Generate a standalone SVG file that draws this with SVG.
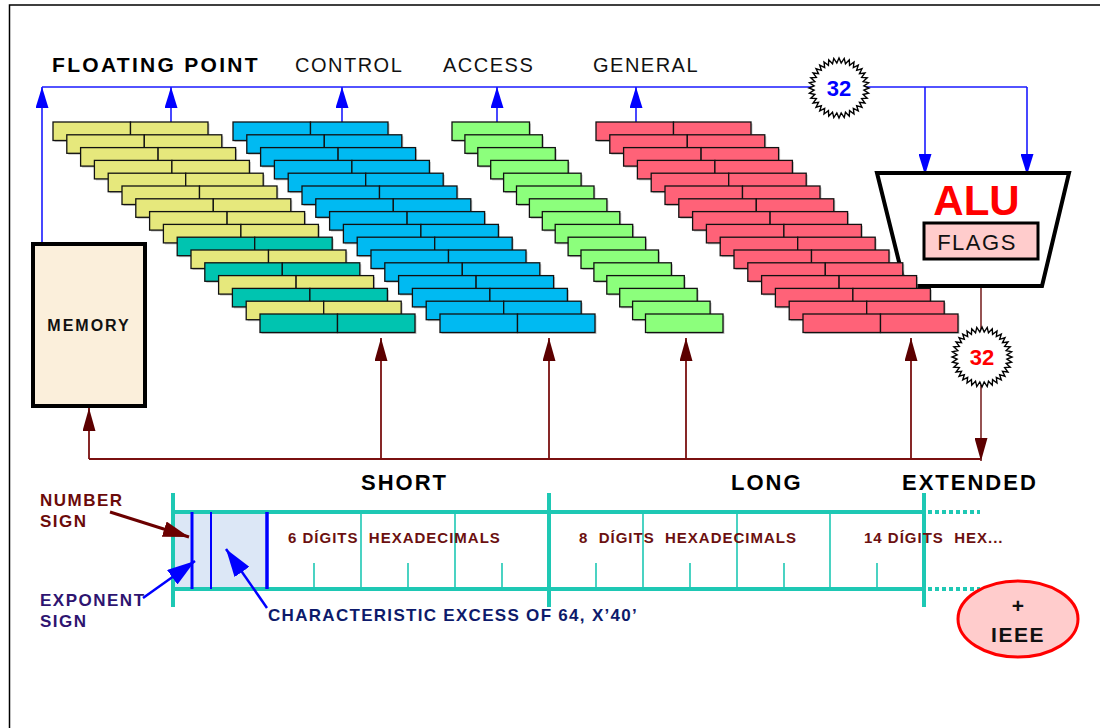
<svg xmlns="http://www.w3.org/2000/svg" xmlns:xlink="http://www.w3.org/1999/xlink" width="1100" height="728" viewBox="0 0 1100 728">
  <style>
    .sans { font-family: "Liberation Sans", Arial, sans-serif; }
    .lbl { font-weight: bold; fill: #000; font-size: 21px; letter-spacing: 2.3px; }
    .reg { fill: #111; font-size: 20px; letter-spacing: 1.5px; }
    .fmt { font-weight: bold; fill: #000; font-size: 22px; letter-spacing: 2px; }
    .dig { font-weight: bold; fill: #6B1010; font-size: 15px; letter-spacing: 1px; white-space: pre; }
    .bus { stroke: #1A1AFF; stroke-width: 1.6; fill: none; }
    .mem { stroke: #7A1010; stroke-width: 1.8; fill: none; }
    .cell { stroke: #111; stroke-width: 1.3; }
    .shadow { fill: #999; opacity: 0.55; }
    .y { fill: #E6E87C; }
    .t { fill: #00C4B0; }
    .b { fill: #00BAF2; }
    .g { fill: #8CFF7C; }
    .r { fill: #FF6278; }
    .tealbar { stroke: #1EC8B4; stroke-width: 4; fill: none; }
    .tealthin { stroke: #1EC8B4; stroke-width: 1.6; fill: none; }
    .burst { fill: #fff; stroke: #000; stroke-width: 1.4; stroke-linejoin: miter; }
  </style>
  <defs>
    <marker id="tipBlue" markerUnits="userSpaceOnUse" viewBox="0 0 21 13" refX="21" refY="6.5" markerWidth="21" markerHeight="13" orient="auto">
      <path d="M0,0 L21,6.5 L0,13 z" fill="#0000FF"/>
    </marker>
    <marker id="tipBrown" markerUnits="userSpaceOnUse" viewBox="0 0 23 13" refX="23" refY="6.5" markerWidth="23" markerHeight="13" orient="auto">
      <path d="M0,0 L23,6.5 L0,13 z" fill="#5C0000"/>
    </marker>
    <marker id="tipBrownBig" markerUnits="userSpaceOnUse" viewBox="0 0 26 16" refX="26" refY="8" markerWidth="26" markerHeight="16" orient="auto">
      <path d="M0,0 L26,8 L0,16 z" fill="#6B0000"/>
    </marker>
    <marker id="tipBlueBig" markerUnits="userSpaceOnUse" viewBox="0 0 28 18" refX="28" refY="9" markerWidth="28" markerHeight="18" orient="auto">
      <path d="M0,0 L28,9 L0,18 z" fill="#0000FF"/>
    </marker>

    <!-- register rows: two cells of 77.5 x 18.5 with a soft shadow -->
    <g id="rowY">
      <rect x="1.5" y="1.5" width="155" height="18.5" class="shadow"/>
      <rect x="0" y="0" width="77.5" height="18.5" class="cell y"/>
      <rect x="77.5" y="0" width="77.5" height="18.5" class="cell y"/>
    </g>
    <g id="rowT">
      <rect x="1.5" y="1.5" width="155" height="18.5" class="shadow"/>
      <rect x="0" y="0" width="77.5" height="18.5" class="cell t"/>
      <rect x="77.5" y="0" width="77.5" height="18.5" class="cell t"/>
    </g>
    <g id="rowB">
      <rect x="1.5" y="1.5" width="155" height="18.5" class="shadow"/>
      <rect x="0" y="0" width="77.5" height="18.5" class="cell b"/>
      <rect x="77.5" y="0" width="77.5" height="18.5" class="cell b"/>
    </g>
    <g id="rowR">
      <rect x="1.5" y="1.5" width="155" height="18.5" class="shadow"/>
      <rect x="0" y="0" width="77.5" height="18.5" class="cell r"/>
      <rect x="77.5" y="0" width="77.5" height="18.5" class="cell r"/>
    </g>
    <g id="rowG">
      <rect x="1.5" y="1.5" width="77.5" height="18.5" class="shadow"/>
      <rect x="0" y="0" width="77.5" height="18.5" class="cell g"/>
    </g>

    <!-- 36-point starburst, outer radius 30, inner 25 -->
    <polygon id="burstShape" class="burst" points="30,0 24.9,2.18 29.54,5.21 24.15,6.47 28.19,10.26 22.66,10.57 25.98,15 20.48,14.34 22.98,19.28 17.68,17.68 19.28,22.98 14.34,20.48 15,25.98 10.57,22.66 10.26,28.19 6.47,24.15 5.21,29.54 2.18,24.9 0,30 -2.18,24.9 -5.21,29.54 -6.47,24.15 -10.26,28.19 -10.57,22.66 -15,25.98 -14.34,20.48 -19.28,22.98 -17.68,17.68 -22.98,19.28 -20.48,14.34 -25.98,15 -22.66,10.57 -28.19,10.26 -24.15,6.47 -29.54,5.21 -24.9,2.18 -30,0 -24.9,-2.18 -29.54,-5.21 -24.15,-6.47 -28.19,-10.26 -22.66,-10.57 -25.98,-15 -20.48,-14.34 -22.98,-19.28 -17.68,-17.68 -19.28,-22.98 -14.34,-20.48 -15,-25.98 -10.57,-22.66 -10.26,-28.19 -6.47,-24.15 -5.21,-29.54 -2.18,-24.9 0,-30 2.18,-24.9 5.21,-29.54 6.47,-24.15 10.26,-28.19 10.57,-22.66 15,-25.98 14.34,-20.48 19.28,-22.98 17.68,-17.68 22.98,-19.28 20.48,-14.34 25.98,-15 22.66,-10.57 28.19,-10.26 24.15,-6.47 29.54,-5.21 24.9,-2.18"/>
  </defs>

  <rect width="1100" height="728" fill="#fff"/>

  <!-- page frame -->
  <path d="M9.5,728 V5 H1100" fill="none" stroke="#000" stroke-width="1.5"/>

  <!-- section titles -->
  <g class="sans">
    <text x="52" y="72" class="lbl">FLOATING POINT</text>
    <text x="295" y="72" class="reg">CONTROL</text>
    <text x="443" y="72" class="reg">ACCESS</text>
    <text x="593" y="72" class="reg">GENERAL</text>
  </g>

  <!-- connectors -->
  <g id="connectors">
    <!-- upper data bus (blue) -->
    <line x1="42" y1="87" x2="1027" y2="87" class="bus"/>
    <line x1="42" y1="242" x2="42" y2="87" class="bus" marker-end="url(#tipBlue)"/>
    <line x1="171" y1="122" x2="171" y2="87" class="bus" marker-end="url(#tipBlue)"/>
    <line x1="342" y1="122" x2="342" y2="87" class="bus" marker-end="url(#tipBlue)"/>
    <line x1="497" y1="122" x2="497" y2="87" class="bus" marker-end="url(#tipBlue)"/>
    <line x1="636" y1="122" x2="636" y2="87" class="bus" marker-end="url(#tipBlue)"/>
    <line x1="925" y1="87" x2="925" y2="175" class="bus" marker-end="url(#tipBlue)"/>
    <line x1="1027" y1="87" x2="1027" y2="175" class="bus" marker-end="url(#tipBlue)"/>

    <!-- lower result bus (maroon) -->
    <line x1="89" y1="459" x2="981" y2="459" class="mem"/>
    <line x1="89" y1="459" x2="89" y2="408" class="mem" marker-end="url(#tipBrown)"/>
    <line x1="381" y1="459" x2="381" y2="338" class="mem" marker-end="url(#tipBrown)"/>
    <line x1="549" y1="459" x2="549" y2="338" class="mem" marker-end="url(#tipBrown)" stroke="#9B4B4B"/>
    <line x1="686" y1="459" x2="686" y2="338" class="mem" marker-end="url(#tipBrown)"/>
    <line x1="911" y1="459" x2="911" y2="338" class="mem" marker-end="url(#tipBrown)"/>
    <line x1="981" y1="286" x2="981" y2="330" stroke="#8B4040" stroke-width="1.8"/>
    <line x1="981" y1="385" x2="981" y2="461" stroke="#8B4040" stroke-width="1.8" marker-end="url(#tipBrown)"/>
  </g>

  <!-- ALU (drawn beneath the general registers) -->
  <g id="alu">
    <polygon points="877,173 1069,173 1042,286 905,286" fill="#fff" stroke="#000" stroke-width="4" stroke-linejoin="miter"/>
    <text x="976.5" y="215" text-anchor="middle" class="sans" font-size="42" font-weight="bold" fill="#FF0000">ALU</text>
    <rect x="924" y="223" width="114" height="36" fill="#FFCCCC" stroke="#000" stroke-width="3"/>
    <text x="977" y="249.5" text-anchor="middle" class="sans" font-size="22" letter-spacing="1.5" fill="#111">FLAGS</text>
  </g>

  <!-- floating point registers -->
  <g id="fp-registers">
    <use xlink:href="#rowY" x="53" y="122"/>
    <use xlink:href="#rowY" x="66.8" y="134.8"/>
    <use xlink:href="#rowY" x="80.6" y="147.6"/>
    <use xlink:href="#rowY" x="94.4" y="160.4"/>
    <use xlink:href="#rowY" x="108.2" y="173.2"/>
    <use xlink:href="#rowY" x="122" y="186"/>
    <use xlink:href="#rowY" x="135.8" y="198.8"/>
    <use xlink:href="#rowY" x="149.6" y="211.6"/>
    <use xlink:href="#rowY" x="163.4" y="224.4"/>
    <use xlink:href="#rowT" x="177.2" y="237.2"/>
    <use xlink:href="#rowY" x="191" y="250"/>
    <use xlink:href="#rowT" x="204.8" y="262.8"/>
    <use xlink:href="#rowY" x="218.6" y="275.6"/>
    <use xlink:href="#rowT" x="232.4" y="288.4"/>
    <use xlink:href="#rowY" x="246.2" y="301.2"/>
    <use xlink:href="#rowT" x="260" y="314"/>
  </g>

  <!-- control registers -->
  <g id="control-registers">
    <use xlink:href="#rowB" x="233" y="122"/>
    <use xlink:href="#rowB" x="246.8" y="134.8"/>
    <use xlink:href="#rowB" x="260.6" y="147.6"/>
    <use xlink:href="#rowB" x="274.4" y="160.4"/>
    <use xlink:href="#rowB" x="288.2" y="173.2"/>
    <use xlink:href="#rowB" x="302" y="186"/>
    <use xlink:href="#rowB" x="315.8" y="198.8"/>
    <use xlink:href="#rowB" x="329.6" y="211.6"/>
    <use xlink:href="#rowB" x="343.4" y="224.4"/>
    <use xlink:href="#rowB" x="357.2" y="237.2"/>
    <use xlink:href="#rowB" x="371" y="250"/>
    <use xlink:href="#rowB" x="384.8" y="262.8"/>
    <use xlink:href="#rowB" x="398.6" y="275.6"/>
    <use xlink:href="#rowB" x="412.4" y="288.4"/>
    <use xlink:href="#rowB" x="426.2" y="301.2"/>
    <use xlink:href="#rowB" x="440" y="314"/>
  </g>

  <!-- access registers -->
  <g id="access-registers">
    <use xlink:href="#rowG" x="452" y="122"/>
    <use xlink:href="#rowG" x="464.9" y="134.8"/>
    <use xlink:href="#rowG" x="477.8" y="147.6"/>
    <use xlink:href="#rowG" x="490.7" y="160.4"/>
    <use xlink:href="#rowG" x="503.6" y="173.2"/>
    <use xlink:href="#rowG" x="516.5" y="186"/>
    <use xlink:href="#rowG" x="529.4" y="198.8"/>
    <use xlink:href="#rowG" x="542.3" y="211.6"/>
    <use xlink:href="#rowG" x="555.2" y="224.4"/>
    <use xlink:href="#rowG" x="568.1" y="237.2"/>
    <use xlink:href="#rowG" x="581" y="250"/>
    <use xlink:href="#rowG" x="593.9" y="262.8"/>
    <use xlink:href="#rowG" x="606.8" y="275.6"/>
    <use xlink:href="#rowG" x="619.7" y="288.4"/>
    <use xlink:href="#rowG" x="632.6" y="301.2"/>
    <use xlink:href="#rowG" x="645.5" y="314"/>
  </g>

  <!-- general registers -->
  <g id="general-registers">
    <use xlink:href="#rowR" x="596" y="122"/>
    <use xlink:href="#rowR" x="609.8" y="134.8"/>
    <use xlink:href="#rowR" x="623.6" y="147.6"/>
    <use xlink:href="#rowR" x="637.4" y="160.4"/>
    <use xlink:href="#rowR" x="651.2" y="173.2"/>
    <use xlink:href="#rowR" x="665" y="186"/>
    <use xlink:href="#rowR" x="678.8" y="198.8"/>
    <use xlink:href="#rowR" x="692.6" y="211.6"/>
    <use xlink:href="#rowR" x="706.4" y="224.4"/>
    <use xlink:href="#rowR" x="720.2" y="237.2"/>
    <use xlink:href="#rowR" x="734" y="250"/>
    <use xlink:href="#rowR" x="747.8" y="262.8"/>
    <use xlink:href="#rowR" x="761.6" y="275.6"/>
    <use xlink:href="#rowR" x="775.4" y="288.4"/>
    <use xlink:href="#rowR" x="789.2" y="301.2"/>
    <use xlink:href="#rowR" x="803" y="314"/>
  </g>

  <!-- bus width badges -->
  <g id="width-in">
    <use xlink:href="#burstShape" x="839" y="88"/>
    <text x="839" y="96" text-anchor="middle" class="sans" font-size="22" font-weight="bold" fill="#0000FF">32</text>
  </g>
  <g id="width-out">
    <use xlink:href="#burstShape" x="982" y="357"/>
    <text x="982" y="365" text-anchor="middle" class="sans" font-size="22" font-weight="bold" fill="#FF0000">32</text>
  </g>

  <!-- main storage -->
  <g id="memory">
    <rect x="33" y="244" width="112" height="162" fill="#FBEFDB" stroke="#000" stroke-width="4"/>
    <text x="89" y="331" text-anchor="middle" class="sans" font-size="16" font-weight="bold" letter-spacing="2" fill="#111">MEMORY</text>
  </g>

  <!-- number formats -->
  <g id="formats" class="sans">
    <text x="361" y="490" class="fmt">SHORT</text>
    <text x="731" y="490" class="fmt" letter-spacing="1.6">LONG</text>
    <text x="902" y="490" class="fmt">EXTENDED</text>
  </g>

  <g id="format-bar">
    <rect x="175" y="512" width="92" height="77" fill="#DCE7F6"/>
    <!-- minor digit ticks -->
    <path class="tealthin" d="M314,563 V589 M408,563 V589 M502,563 V589 M596,563 V589 M690,563 V589 M784,563 V589 M877,563 V589"/>
    <!-- digit group separators -->
    <path class="tealthin" d="M361,512 V589 M455,512 V589 M643,512 V589 M737,512 V589 M830,512 V589"/>
    <line x1="173" y1="512" x2="924" y2="512" class="tealbar"/>
    <line x1="173" y1="589" x2="924" y2="589" class="tealbar"/>
    <path d="M928,512 H980 M928,589 H980" stroke="#1EC8B4" stroke-width="4" stroke-dasharray="4 3" fill="none"/>
    <path class="tealbar" d="M173,493 V607 M549,493 V607 M924,493 V607"/>
    <line x1="192" y1="512" x2="192" y2="589" stroke="#0000FF" stroke-width="3"/>
    <line x1="211" y1="512" x2="211" y2="589" stroke="#0000FF" stroke-width="2"/>
    <line x1="267" y1="512" x2="267" y2="589" stroke="#0000FF" stroke-width="3.5"/>
    <g class="sans">
      <text x="288" y="543" class="dig">6 DÍGITS  HEXADECIMALS</text>
      <text x="579" y="543" class="dig">8  DÍGITS  HEXADECIMALS</text>
      <text x="864" y="543" class="dig">14 DÍGITS  HEX...</text>
    </g>
  </g>

  <!-- field callouts -->
  <g id="callouts" class="sans">
    <text x="40" y="506" font-size="17" font-weight="bold" letter-spacing="1.5" fill="#6B0A0A">NUMBER</text>
    <text x="40" y="527" font-size="17" font-weight="bold" letter-spacing="1.5" fill="#6B0A0A">SIGN</text>
    <line x1="110" y1="512" x2="189" y2="537" stroke="#6B0000" stroke-width="3" marker-end="url(#tipBrownBig)"/>
    <text x="40" y="606" font-size="17" font-weight="bold" letter-spacing="1.5" fill="#2E1470">EXPONENT</text>
    <text x="40" y="627" font-size="17" font-weight="bold" letter-spacing="1.5" fill="#2E1470">SIGN</text>
    <line x1="143" y1="598" x2="195" y2="561" stroke="#0000FF" stroke-width="2.5" marker-end="url(#tipBlueBig)"/>
    <line x1="267" y1="608" x2="226" y2="549" stroke="#0000FF" stroke-width="2.5" marker-end="url(#tipBlueBig)"/>
    <text x="268" y="621" font-size="17" font-weight="bold" letter-spacing="1.3" fill="#0D1A6B">CHARACTERISTIC EXCESS OF 64, X’40’</text>
  </g>

  <!-- IEEE note -->
  <g id="ieee">
    <ellipse cx="1018" cy="619" rx="60" ry="38" fill="#FFCCCC" stroke="#FF0000" stroke-width="3"/>
    <text x="1018" y="613" text-anchor="middle" class="sans" font-size="21" font-weight="bold" fill="#111">+</text>
    <text x="1018" y="642" text-anchor="middle" class="sans" font-size="21" font-weight="bold" letter-spacing="1.5" fill="#111">IEEE</text>
  </g>
</svg>
